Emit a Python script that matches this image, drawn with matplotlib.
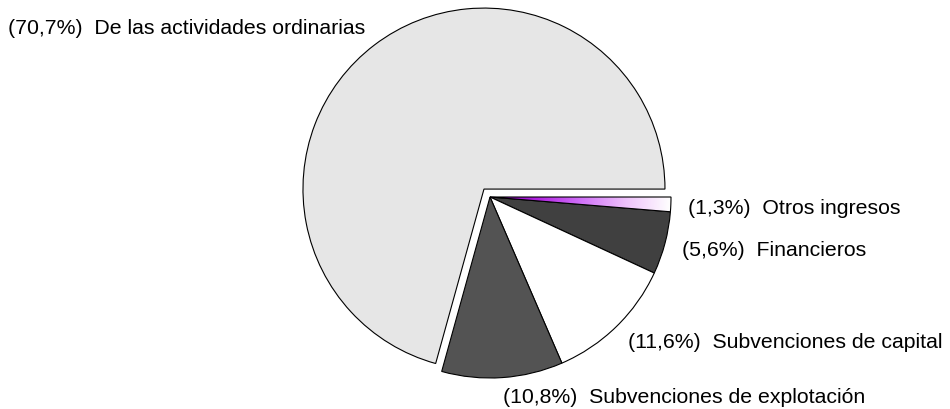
import numpy as np
import matplotlib.pyplot as plt
from matplotlib.colors import LinearSegmentedColormap

plt.rcParams['font.family'] = ['Liberation Sans', 'DejaVu Sans']

categories = ['Otros ingresos', 'Financieros', 'Subvenciones de capital',
              'Subvenciones de explotación', 'De las actividades ordinarias']
shares = [1.3, 5.6, 11.6, 10.8, 70.7]
labels = ['(%s%%)  %s' % (str(v).replace('.', ','), c) for v, c in zip(shares, categories)]

colors = ['#d9a0f0', '#404040', '#ffffff', '#535353', '#e6e6e6']
explode_frac = [0, 0, 0, 0, 0.055]

# label anchors in pixel coords (x from left, y from top)
label_pos = [(688, 209), (682, 250), (628, 343), (503, 398), (8, 29)]

fig = plt.figure(figsize=(9.5, 4.1), dpi=100)
ax = fig.add_axes([0, 0, 1, 1])

cx, cy, r = 490, 410 - 198, 181
wedges, _ = ax.pie(shares, colors=colors, explode=[e * r for e in explode_frac],
                   startangle=0, counterclock=False, center=(cx, cy), radius=r,
                   wedgeprops=dict(edgecolor='black', linewidth=0.8))
ax.set_xlim(0, 950)
ax.set_ylim(0, 410)
ax.set_aspect('equal')
ax.axis('off')

# purple-to-white radial gradient on the first slice
cmap = LinearSegmentedColormap.from_list(
    'g', ['#7000a0', '#b020e0', '#d070f8', '#eec0fb', '#ffffff'])
xx, yy = np.meshgrid(np.linspace(cx, cx + r, 200), np.linspace(cy - 20, cy, 40))
dist = np.hypot(xx - cx, yy - cy) / r
img = ax.imshow(dist, cmap=cmap, vmin=0, vmax=1, origin='lower',
                extent=(cx, cx + r, cy - 20, cy), zorder=wedges[0].get_zorder() + 0.1,
                aspect='auto')
img.set_clip_path(wedges[0])
wedges[0].set_zorder(wedges[0].get_zorder() + 0.2)
wedges[0].set_facecolor('none')

for lab, (x, y) in zip(labels, label_pos):
    ax.text(x, 410 - y, lab, fontsize=15.3, ha='left', va='center')

fig.savefig('out.png', dpi=100)
